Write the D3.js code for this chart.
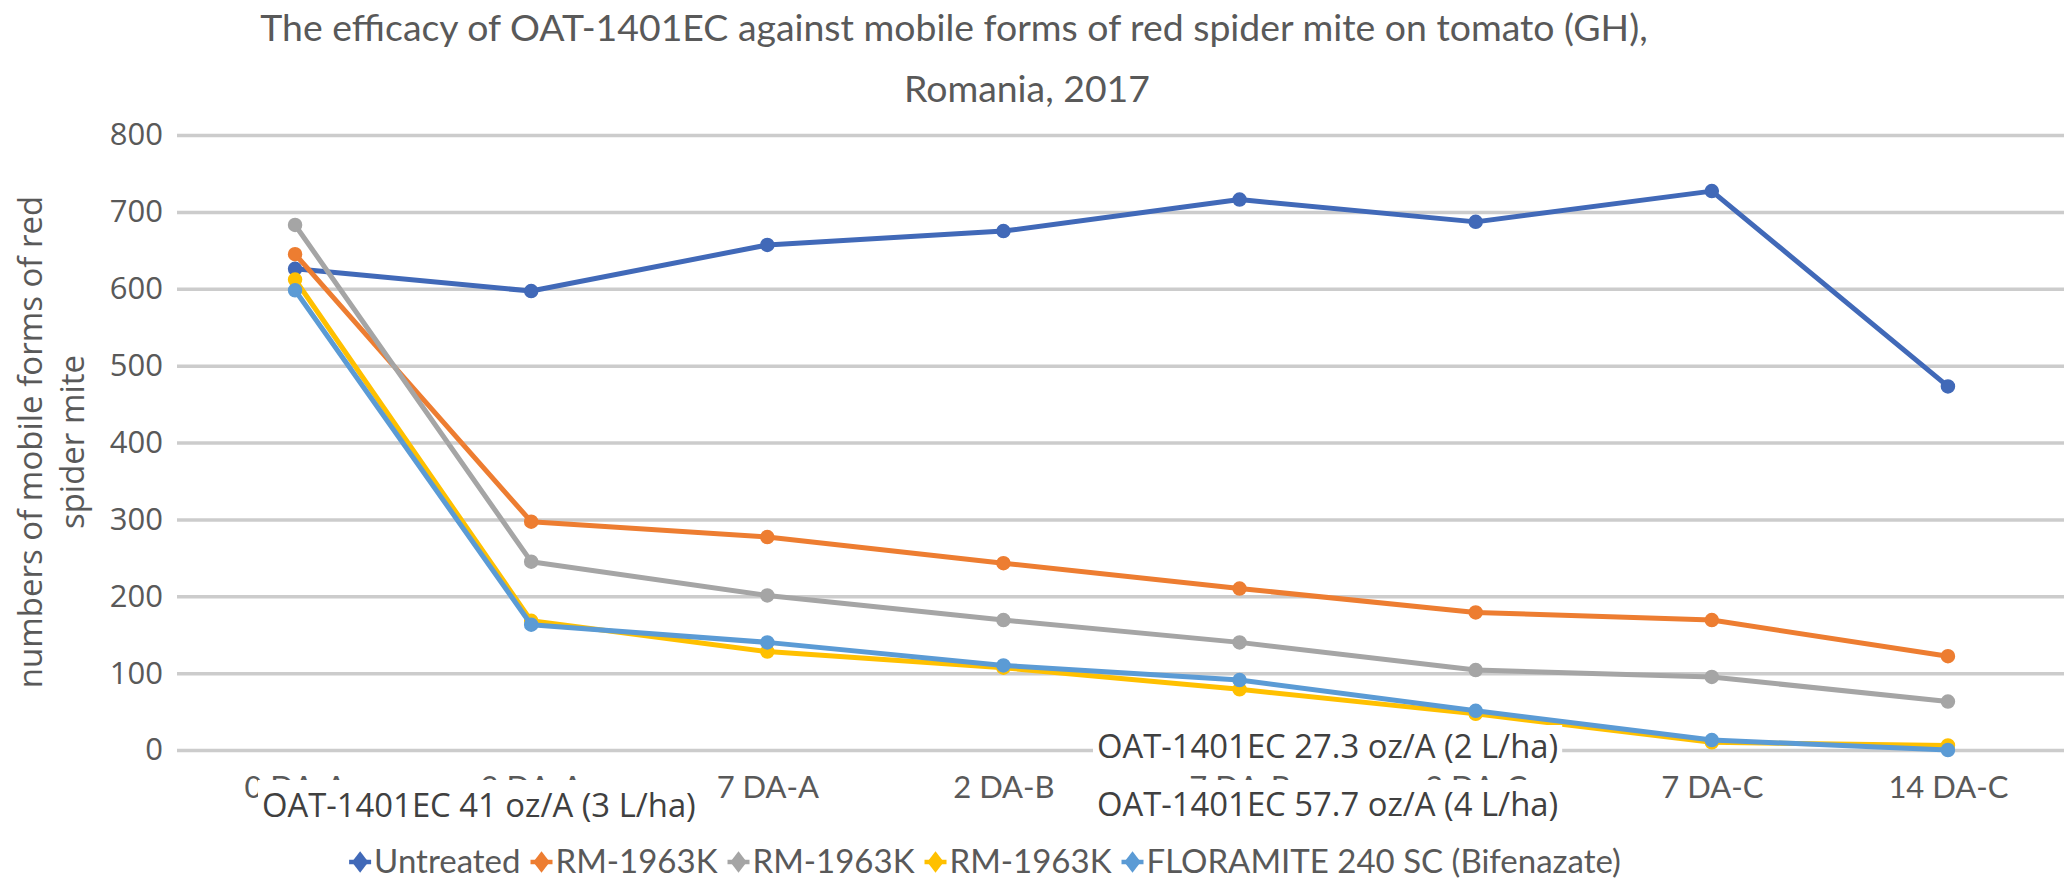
<!DOCTYPE html>
<html>
<head>
<meta charset="utf-8">
<script src="https://cdn.jsdelivr.net/npm/d3@7"></script>
<style>
  html, body { margin: 0; padding: 0; background: #ffffff; }
  svg { display: block; }
</style>
</head>
<body>
<svg id="chart" width="2064" height="880"></svg>
<script>
// Sampling days after each application (A, B, C)
const categories = ["0 DA-A", "3 DA-A", "7 DA-A", "2 DA-B", "7 DA-B", "2 DA-C", "7 DA-C", "14 DA-C"];

// Mobile forms of red spider mite counted per treatment
const untreated  = [626, 597, 657, 675, 716, 687, 727, 473];
const rmDose2L   = [645, 297, 277, 243, 210, 179, 169, 122];
const rmDose3L   = [683, 245, 201, 169, 140, 104, 95, 63];
const rmDose4L   = [612, 168, 128, 107, 79, 47, 10, 6];
const floramite  = [598, 163, 140, 110, 91, 51, 13, 0];

const seriesNames  = ["Untreated", "RM-1963K", "RM-1963K", "RM-1963K", "FLORAMITE 240 SC (Bifenazate)"];
const seriesColors = ["#4169B8", "#ED7D31", "#A5A5A5", "#FFC000", "#5B9BD5"];
const seriesValues = [untreated, rmDose2L, rmDose3L, rmDose4L, floramite];

const yTicks = [0, 100, 200, 300, 400, 500, 600, 700, 800];

const titleLines = [
  "The efficacy of OAT-1401EC against mobile forms of red spider mite on tomato (GH),",
  "Romania, 2017"
];
const yTitleLines = ["numbers of mobile forms of red", "spider mite"];
const doseNotes = [
  "OAT-1401EC 41 oz/A (3 L/ha)",
  "OAT-1401EC 27.3 oz/A (2 L/ha)",
  "OAT-1401EC 57.7 oz/A (4 L/ha)"
];

const W = 2064, H = 880;
const plot = { left: 177, right: 2066, top: 135, bottom: 750 };
const narrowFont = "Lato, 'Noto Sans', sans-serif";
const wideFont = "'Open Sans', 'Noto Sans', sans-serif";
const textGrey = "#595959";

const svg = d3.select("#chart");

const x = d3.scalePoint().domain(categories).range([plot.left, plot.right]).padding(0.5);
const y = d3.scaleLinear().domain([0, 800]).range([plot.bottom, plot.top]);

// Title
svg.append("text")
  .attr("x", 954).attr("y", 41)
  .attr("text-anchor", "middle")
  .style("font-family", narrowFont).style("font-size", "37.4px").attr("fill", textGrey)
  .text(titleLines[0]);
svg.append("text")
  .attr("x", 1027).attr("y", 102)
  .attr("text-anchor", "middle")
  .style("font-family", narrowFont).style("font-size", "37.4px").attr("fill", textGrey)
  .text(titleLines[1]);

// Value axis with horizontal gridlines
const yAxis = svg.append("g")
  .attr("transform", `translate(${plot.left},0)`)
  .call(d3.axisLeft(y).tickValues(yTicks).tickSize(-(W - plot.left)).tickPadding(14));
yAxis.select(".domain").remove();
yAxis.selectAll(".tick line").attr("stroke", "#cccccc").attr("stroke-width", 3.5);
yAxis.selectAll(".tick text")
  .style("font-family", wideFont).style("font-size", "31px").attr("fill", textGrey);

// Value axis title
const yTitle = svg.append("g").attr("transform", "translate(0,442) rotate(-90)");
yTitle.append("text").attr("x", 0).attr("y", 42).attr("text-anchor", "middle")
  .style("font-family", wideFont).style("font-size", "33px").attr("fill", textGrey)
  .text(yTitleLines[0]);
yTitle.append("text").attr("x", 0).attr("y", 84).attr("text-anchor", "middle")
  .style("font-family", wideFont).style("font-size", "33px").attr("fill", textGrey)
  .text(yTitleLines[1]);

// Category axis labels
const xAxis = svg.append("g")
  .attr("transform", `translate(0,${plot.bottom})`)
  .call(d3.axisBottom(x).tickSize(0));
xAxis.select(".domain").remove();
xAxis.selectAll(".tick text")
  .attr("y", 48).attr("dy", 0)
  .style("font-family", narrowFont).style("font-size", "31px").attr("fill", textGrey);

// Series lines and markers
const line = d3.line().x((d, i) => x(categories[i])).y(d => y(d));
const seriesG = svg.append("g");
seriesValues.forEach((vals, s) => {
  const g = seriesG.append("g");
  g.append("path")
    .datum(vals)
    .attr("d", line)
    .attr("fill", "none")
    .attr("stroke", seriesColors[s])
    .attr("stroke-width", 5)
    .attr("stroke-linejoin", "round")
    .attr("stroke-linecap", "round");
  g.selectAll("circle")
    .data(vals)
    .join("circle")
    .attr("cx", (d, i) => x(categories[i]))
    .attr("cy", d => y(d))
    .attr("r", 6.5)
    .attr("fill", seriesColors[s])
    .attr("stroke", seriesColors[s])
    .attr("stroke-width", 1.5);
});

// Dose text boxes laid over the category axis
const notePos = [
  { x: 262, y: 817, top: 780, h: 48 },
  { x: 1097, y: 758, top: 725, h: 43 },
  { x: 1097, y: 816, top: 780, h: 48 }
];
doseNotes.forEach((t, i) => {
  const g = svg.append("g");
  const rect = g.append("rect").attr("fill", "#ffffff");
  const txt = g.append("text")
    .attr("x", notePos[i].x).attr("y", notePos[i].y)
    .style("font-family", wideFont).style("font-size", "32.8px").attr("fill", "#404040")
    .text(t);
  const w = txt.node().getComputedTextLength();
  rect.attr("x", notePos[i].x - 4).attr("y", notePos[i].top)
    .attr("width", w + 8).attr("height", notePos[i].h);
});

// Legend
const legend = svg.append("g");
let cursor = 0;
seriesNames.forEach((name, i) => {
  const g = legend.append("g");
  const cx = cursor + 11;
  g.append("line").attr("x1", cx - 11).attr("x2", cx + 11).attr("y1", 0).attr("y2", 0)
    .attr("stroke", seriesColors[i]).attr("stroke-width", 4.5);
  g.append("path")
    .attr("d", d3.symbol(d3.symbolDiamond, 150)())
    .attr("transform", `translate(${cx},0) scale(1.25,0.95)`)
    .attr("fill", seriesColors[i]);
  const t = g.append("text").attr("x", cx + 14).attr("y", 11)
    .style("font-family", narrowFont).style("font-size", "33px").attr("fill", textGrey)
    .text(name);
  const w = t.node().getComputedTextLength();
  cursor = cx + 14 + w + 10;
});
const legendWidth = cursor - 10;
legend.attr("transform", `translate(${985 - legendWidth / 2},862)`);
</script>
</body>
</html>
